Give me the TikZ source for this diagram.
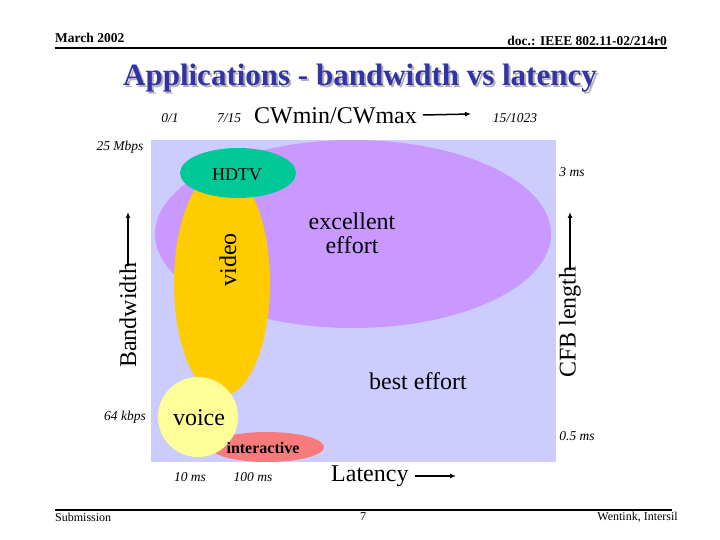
\documentclass[tikz,border=0pt]{standalone}
\usepackage{fontspec}
\setmainfont{Liberation Serif}
\usetikzlibrary{arrows.meta, positioning}
\definecolor{bgblue}{HTML}{CCCCFF}
\definecolor{exclilac}{HTML}{C999FF}
\definecolor{vidgold}{HTML}{FFCC00}
\definecolor{hdgreen}{HTML}{00C896}
\definecolor{voiceyel}{HTML}{FFFF99}
\definecolor{intred}{HTML}{F77B7B}
\definecolor{titleblue}{HTML}{3333A6}
\begin{document}
\begin{tikzpicture}[x=1pt, y=-1pt,
  hdr/.style={font=\fontsize{13.5}{15}\selectfont\bfseries, inner sep=0pt},
  foot/.style={font=\fontsize{12}{14}\selectfont, inner sep=0pt},
  tick/.style={font=\fontsize{13.5}{15}\selectfont\itshape, inner sep=0pt},
  big/.style={font=\fontsize{24}{26}\selectfont, inner sep=0pt, align=center},
  arr/.style={-{Latex[length=6pt, width=5pt]}, line width=1.5pt}]
\useasboundingbox (0,0) rectangle (720,540);
% header and footer
\node[hdr, anchor=west] (date) at (55,38) {March 2002};
\node[hdr, anchor=east] (doc) at (667,41) {doc.: IEEE 802.11-02/214r0};
\draw[line width=2pt] (55,48) -- (667,48);
\draw[line width=2pt] (55,510) -- (672,510);
\node[foot, anchor=west] (sub) at (55,517) {Submission};
\node[foot] (page) at (363,517) {7};
\node[foot, anchor=east] (auth) at (678,517) {Wentink, Intersil};
% title
\node[font=\fontsize{31}{34}\selectfont\bfseries, text=black!30] at (362,80) {Applications - bandwidth vs latency};
\node[font=\fontsize{31}{34}\selectfont\bfseries, text=titleblue] (title) at (360,78) {Applications - bandwidth vs latency};
% plot area
\fill[bgblue] (151,140) rectangle (556,462);
\fill[exclilac] (353,234) ellipse [x radius=198, y radius=94];
\fill[vidgold] (222,283) ellipse [x radius=48, y radius=113];
\fill[hdgreen] (238,173) ellipse [x radius=58, y radius=25];
\fill[intred] (267,447) ellipse [x radius=57, y radius=15];
\fill[voiceyel] (198,417) circle [radius=40];
% region labels
\node[font=\fontsize{18}{20}\selectfont] (hdtv) at (237,175) {HDTV};
\node[big, rotate=90] (video) at (228,260) {video};
\node[big] (exc) at (352,233) {excellent\\[-2pt]effort};
\node[big] (best) at (418,381) {best effort};
\node[big] (voice) at (199,418) {voice};
\node[font=\fontsize{16}{18}\selectfont\bfseries, inner sep=0pt] (inter) at (263,448) {interactive};
% axes
\node[big, anchor=east] (cw) at (417,116) {CWmin/CWmax};
\coordinate (cwtip) at (471,114);
\draw[arr] (cw.east) ++(6,-1) coordinate (cwtail) -- (cwtip);
\node[tick] (cw01) at (170,118) {0/1};
\node[tick] (cw715) at (229,118) {7/15};
\node[tick] (cw1023) at (515,118) {15/1023};
\node[big, rotate=90, anchor=west] (bw) at (128,368) {Bandwidth};
\coordinate (bwtip) at (128,212);
\draw[arr] ([yshift=-4pt]bw.east) -- (bwtip);
\node[tick] (bwhi) at (120,147) {25 Mbps};
\node[tick] (bwlo) at (125,417) {64 kbps};
\node[big, rotate=90, anchor=west] (cfb) at (570,378) {CFB length};
\coordinate (cfbtip) at (570,212);
\draw[arr] ([yshift=-4pt]cfb.east) -- (cfbtip);
\node[tick] (cfbhi) at (572,172) {3 ms};
\node[tick] (cfblo) at (577,436) {0.5 ms};
\node[big, anchor=west] (lat) at (331,476) {Latency};
\coordinate (lattip) at (456,476);
\draw[arr] ([xshift=6pt]lat.east) -- (lattip);
\node[tick] (lat10) at (190,477) {10 ms};
\node[tick] (lat100) at (253,477) {100 ms};
\end{tikzpicture}
\end{document}
